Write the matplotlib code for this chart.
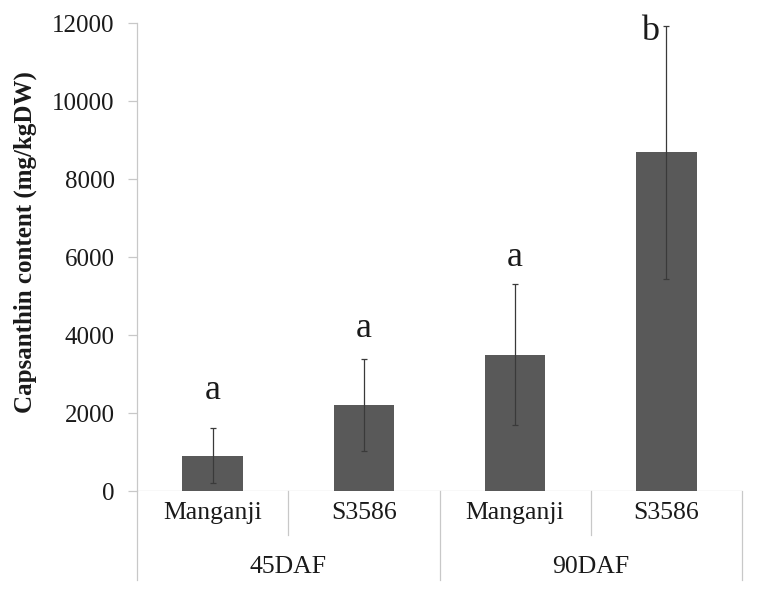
import matplotlib
matplotlib.use("Agg")
import matplotlib.pyplot as plt
import matplotlib.transforms as mtransforms

plt.rcParams['font.family'] = ['Liberation Serif', 'DejaVu Serif']

cultivars = ["Manganji", "S3586", "Manganji", "S3586"]
stages = ["45DAF", "90DAF"]
means = [910, 2200, 3490, 8680]
errors = [710, 1180, 1810, 3240]
letters = ["a", "a", "a", "b"]
letter_y = [2360, 3960, 5770, 11560]
letter_dx = [0, 0, 0, -0.11]
yticks = [0, 2000, 4000, 6000, 8000, 10000, 12000]

W, H = 759, 596
fig = plt.figure(figsize=(W / 100, H / 100), dpi=100)
left, right, top, bottom = 137, 742, 23, 491
ax = fig.add_axes([left / W, (H - bottom) / H, (right - left) / W, (bottom - top) / H])

axis_col = '#c8c8c8'
txt_col = '#1a1a1a'
x = [i + 0.5 for i in range(len(means))]
ax.bar(x, means, width=0.40, color='#595959', zorder=2)
ax.errorbar(x, means, yerr=errors, fmt='none', ecolor='#3a3a3a', elinewidth=0.9,
            capsize=2.5, capthick=0.9, zorder=3)

for xi, dx, ly, lt in zip(x, letter_dx, letter_y, letters):
    ax.text(xi + dx, ly, lt, ha='center', va='baseline', fontsize=26, color=txt_col)

ax.set_xlim(0, 4)
ax.set_ylim(0, 12000)
ax.set_yticks(yticks)
ax.set_yticklabels([str(v) for v in yticks], fontsize=18, color=txt_col)
ax.tick_params(axis='y', length=6.5, width=0.9, color=axis_col, pad=9.5)
ax.set_xticks(x)
ax.set_xticklabels(cultivars, fontsize=18.5, color=txt_col)
ax.tick_params(axis='x', length=0, pad=8)

for s in ['top', 'right', 'bottom']:
    ax.spines[s].set_visible(False)
ax.spines['left'].set_color(axis_col)
ax.spines['left'].set_linewidth(0.9)

ax.axhline(0, color=axis_col, lw=0.9, zorder=1)

trans = mtransforms.blended_transform_factory(ax.transData, ax.transAxes)
for xv, ybot in [(0, -0.190), (1, -0.094), (2, -0.190), (3, -0.094), (4, -0.190)]:
    ax.plot([xv, xv], [0, ybot], transform=trans, color=axis_col, lw=0.9, clip_on=False)

for i, st in enumerate(stages):
    ax.text(1 + 2 * i, -0.163, st, transform=trans, ha='center', va='center',
            fontsize=18.5, color=txt_col)

ax.set_ylabel("Capsanthin content (mg/kgDW)", fontsize=18, fontweight='bold',
              color=txt_col)
ax.yaxis.set_label_coords((25 - left) / (right - left), (bottom - 242) / (bottom - top))
ax.yaxis.label.set_verticalalignment('center')

fig.savefig("out.png", dpi=100)
